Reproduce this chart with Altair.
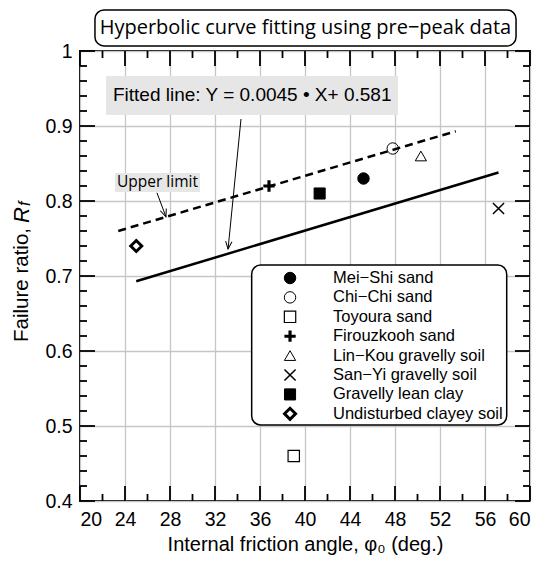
import math
import altair as alt
import pandas as pd

# ---------------- data ----------------
materials = ["Mei−Shi sand", "Chi−Chi sand", "Toyoura sand", "Firouzkooh sand",
             "Lin−Kou gravelly soil", "San−Yi gravelly soil", "Gravelly lean clay",
             "Undisturbed clayey soil"]
phi = [45.2, 47.8, 39.0, 36.8, 50.3, 57.2, 41.3, 25.0]
rf = [0.83, 0.87, 0.46, 0.82, 0.86, 0.79, 0.81, 0.74]

fit_x = [25.0, 57.2]
fit_y = [0.693, 0.838]
upper_x = [23.4, 53.4]
upper_y = [0.760, 0.893]

x_major = [20, 24, 28, 32, 36, 40, 44, 48, 52, 56, 60]
x_minor = [22, 26, 30, 34, 38, 42, 46, 50, 54, 58]
y_major = [0.4, 0.5, 0.6, 0.7, 0.8, 0.9, 1.0]
y_minor = [0.42, 0.44, 0.46, 0.48, 0.52, 0.54, 0.56, 0.58, 0.62, 0.64, 0.66, 0.68,
           0.72, 0.74, 0.76, 0.78, 0.82, 0.84, 0.86, 0.88, 0.92, 0.94, 0.96, 0.98]

title_text = "Hyperbolic curve fitting using pre−peak data"
fit_label = "Fitted line: Y = 0.0045 • X+ 0.581"
upper_label = "Upper limit"
x_title = "Internal friction angle, φ₀ (deg.)"

# ---------------- layout (in data units) ----------------
W, H = 450, 450
XD = [20, 60]
YD = [0.4, 1.0]
PX = W / (XD[1] - XD[0])      # px per x unit
PY = H / (YD[1] - YD[0])      # px per y unit

legend_y = [0.6973, 0.6715, 0.6456, 0.6197, 0.5939, 0.5680, 0.5421, 0.5163]

PLUS = "M-1,-0.28H-0.28V-1H0.28V-0.28H1V0.28H0.28V1H-0.28V0.28H-1Z"
XMARK = "M-1,-1L1,1M-1,1L1,-1"
ARROW = "M-0.42,-1L0,0L0.42,-1"

shape_range = ["circle", "circle", "square", PLUS, "triangle-up", XMARK, "square", "diamond"]
fill_range = ["black", "transparent", "transparent", "black", "transparent", "transparent",
              "black", "transparent"]
size_range = [132, 121, 115, 150, 125, 100, 121, 95]
sw_values = [1, 1, 1.2, 0, 1, 1.5, 1, 3]

FONT = "Liberation Sans"

xs = alt.Scale(domain=XD, nice=False, zero=False)
ys = alt.Scale(domain=YD, nice=False, zero=False)
xaxis = alt.Axis(values=x_major, format="d", ticks=False, domain=False, grid=True,
                 gridColor="#c6c6c6", gridWidth=1.3, labelFont=FONT, labelFontSize=19.5,
                 labelColor="black", labelPadding=9, title=x_title, titleFont=FONT,
                 titleFontSize=20, titleFontWeight="normal", titleColor="black",
                 titlePadding=6)
yaxis = alt.Axis(values=y_major, ticks=False, domain=False, grid=True,
                 gridColor="#c6c6c6", gridWidth=1.3, labelFont=FONT, labelFontSize=19.5,
                 labelColor="black", labelPadding=8,
                 labelExpr="datum.value == 1 ? '1' : format(datum.value, '.1f')")


def X(f):
    return alt.X(f"{f}:Q", scale=xs, axis=xaxis)


def Y(f):
    return alt.Y(f"{f}:Q", scale=ys, axis=yaxis, title="")


pts = pd.DataFrame({"material": materials, "x": phi, "y": rf, "sw": sw_values})
leg = pd.DataFrame({"material": materials, "x": [38.67] * 8, "tx": [42.49] * 8,
                    "y": legend_y, "sw": sw_values})

sym = dict(
    shape=alt.Shape("material:N", scale=alt.Scale(domain=materials, range=shape_range), legend=None),
    fill=alt.Fill("material:N", scale=alt.Scale(domain=materials, range=fill_range), legend=None),
    size=alt.Size("material:N", scale=alt.Scale(domain=materials, range=size_range), legend=None),
    strokeWidth=alt.StrokeWidth("sw:Q", scale=None),
)

# boxes
boxes = pd.DataFrame({
    "x": [21.33, 22.31, 23.11, 35.26],
    "x2": [58.76, 48.27, 30.67, 57.93],
    "y": [1.0547, 0.9667, 0.8373, 0.7147],
    "y2": [1.0067, 0.9147, 0.8120, 0.5013],
})
gray_boxes = alt.Chart(boxes.iloc[1:3]).mark_rect(fill="#e6e6e6").encode(
    x=X("x"), x2="x2", y=Y("y"), y2="y2")
title_box = alt.Chart(boxes.iloc[[0]]).mark_rect(
    fill="white", stroke="black", strokeWidth=1.5, cornerRadius=9).encode(
    x=X("x"), x2="x2", y=Y("y"), y2="y2")
legend_box = alt.Chart(boxes.iloc[[3]]).mark_rect(
    fill="white", stroke="black", strokeWidth=1.5, cornerRadius=9).encode(
    x=X("x"), x2="x2", y=Y("y"), y2="y2")

fit_df = pd.DataFrame({"x": fit_x, "y": fit_y})
up_df = pd.DataFrame({"x": upper_x, "y": upper_y})
fit_line = alt.Chart(fit_df).mark_line(color="black", strokeWidth=2.5).encode(x=X("x"), y=Y("y"))
up_line = alt.Chart(up_df).mark_line(color="black", strokeWidth=2.5, strokeDash=[8, 5]).encode(
    x=X("x"), y=Y("y"))

# arrows
arr = pd.DataFrame({"x": [34.31, 26.84], "y": [0.9093, 0.811],
                    "x2": [33.16, 27.64], "y2": [0.736, 0.779]})
arr["angle"] = [
    (math.degrees(math.atan2(-(r.x2 - r.x) * PX, (r.y - r.y2) * PY)) + 360) % 360
    for r in arr.itertuples()
]
arrow_shaft = alt.Chart(arr).mark_rule(color="black", strokeWidth=1).encode(
    x=X("x"), y=Y("y"), x2="x2", y2="y2")
arrow_head = alt.Chart(arr).mark_point(shape=ARROW, size=230, stroke="black", strokeWidth=1,
                                       fill="transparent", opacity=1).encode(
    x=X("x2"), y=Y("y2"), angle=alt.Angle("angle:Q", scale=None))

points = alt.Chart(pts).mark_point(stroke="black", opacity=1, fillOpacity=1).encode(
    x=X("x"), y=Y("y"), **sym)
leg_sym = alt.Chart(leg).mark_point(stroke="black", opacity=1, fillOpacity=1).encode(
    x=X("x"), y=Y("y"), **sym)
leg_txt = alt.Chart(leg).mark_text(align="left", baseline="middle", font=FONT, fontSize=16.5,
                                   color="black").encode(x=X("tx"), y=Y("y"), text="material:N")

# text annotations
ann = pd.DataFrame({
    "x": [40.04, 22.93, 26.89],
    "y": [1.0307, 0.9407, 0.8247],
    "t": [title_text, fit_label, upper_label],
})
title_txt = alt.Chart(ann.iloc[[0]]).mark_text(font="Open Sans", fontSize=20, color="black",
                                               baseline="middle", align="center").encode(
    x=X("x"), y=Y("y"), text="t:N")
fit_txt = alt.Chart(ann.iloc[[1]]).mark_text(font=FONT, fontSize=19, color="black",
                                             baseline="middle", align="left").encode(
    x=X("x"), y=Y("y"), text="t:N")
up_txt = alt.Chart(ann.iloc[[2]]).mark_text(font="Open Sans", fontSize=15.5, color="black",
                                            baseline="middle", align="center").encode(
    x=X("x"), y=Y("y"), text="t:N")

# y-axis title pieces (rotated)
yt = pd.DataFrame({"x": [14.84, 14.84, 15.15], "y": [0.764, 0.7707, 0.7935],
                   "t": ["Failure ratio,", "R", "f"]})
yt1 = alt.Chart(yt.iloc[[0]]).mark_text(font=FONT, fontSize=20.5, angle=270, align="right",
                                        baseline="middle", color="black").encode(
    x=X("x"), y=Y("y"), text="t:N")
yt2 = alt.Chart(yt.iloc[[1]]).mark_text(font=FONT, fontSize=22, fontStyle="italic", angle=270,
                                        align="left", baseline="middle", color="black").encode(
    x=X("x"), y=Y("y"), text="t:N")
yt3 = alt.Chart(yt.iloc[[2]]).mark_text(font=FONT, fontSize=16, fontStyle="italic", angle=270,
                                        align="left", baseline="middle", color="black").encode(
    x=X("x"), y=Y("y"), text="t:N")

# inward ticks on all four sides
MAJ, MIN = 15, 7
rows = []
for v in x_major:
    rows += [dict(x=v, x2=v, y=YD[0], y2=YD[0] + MAJ / PY), dict(x=v, x2=v, y=YD[1], y2=YD[1] - MAJ / PY)]
for v in x_minor:
    rows += [dict(x=v, x2=v, y=YD[0], y2=YD[0] + MIN / PY), dict(x=v, x2=v, y=YD[1], y2=YD[1] - MIN / PY)]
for v in y_major:
    rows += [dict(x=XD[0], x2=XD[0] + MAJ / PX, y=v, y2=v), dict(x=XD[1], x2=XD[1] - MAJ / PX, y=v, y2=v)]
for v in y_minor:
    rows += [dict(x=XD[0], x2=XD[0] + MIN / PX, y=v, y2=v), dict(x=XD[1], x2=XD[1] - MIN / PX, y=v, y2=v)]
ticks = alt.Chart(pd.DataFrame(rows)).mark_rule(color="black", strokeWidth=1.8).encode(
    x=X("x"), x2="x2", y=Y("y"), y2="y2")

chart = alt.layer(
    gray_boxes, title_box, legend_box, fit_line, up_line, arrow_shaft, arrow_head,
    points, leg_sym, leg_txt, title_txt, fit_txt, up_txt, yt1, yt2, yt3, ticks,
).properties(
    width=W, height=H, background="white",
    padding={"left": 2, "top": 1, "right": 5, "bottom": 5},
).configure_view(stroke="black", strokeWidth=2)

chart.save("out.html", embed_options={"renderer": "svg", "actions": False})
